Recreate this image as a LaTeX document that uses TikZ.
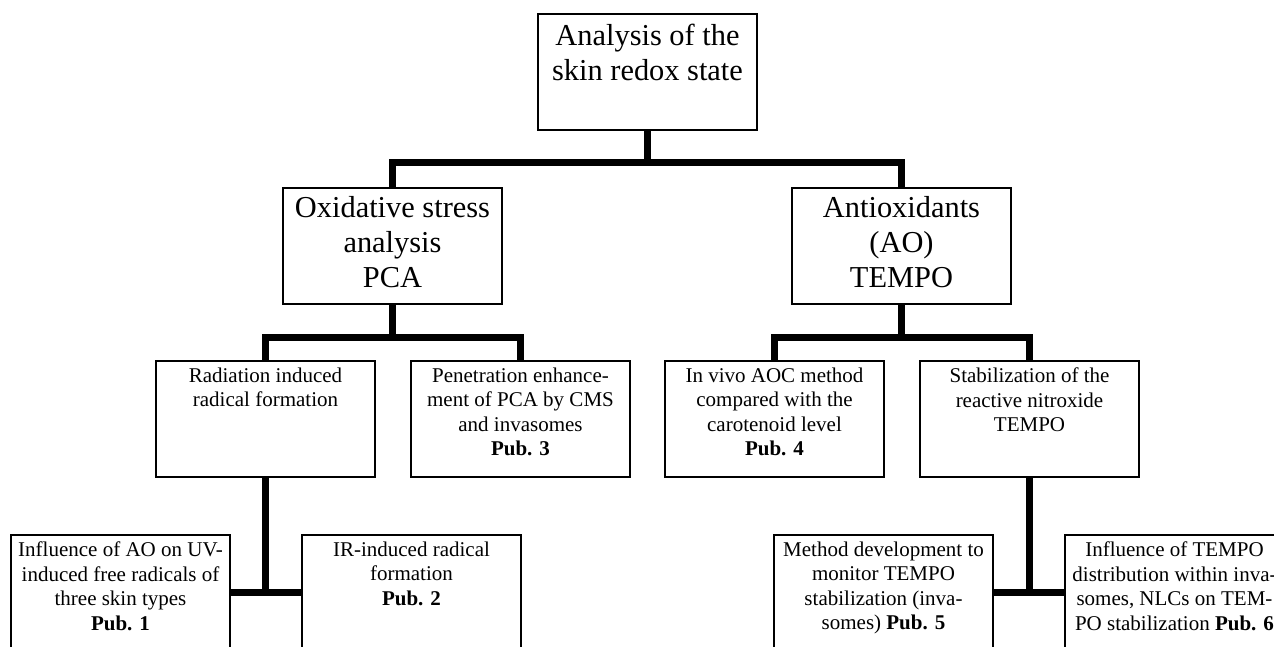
\documentclass[tikz,border=0pt]{standalone}
\usepackage{fontspec}
\setmainfont{Liberation Serif}
\usetikzlibrary{calc}
\begin{document}
\begin{tikzpicture}[x=1pt,y=-1pt,
  box/.style={draw, line width=1.8pt, minimum width=219pt, minimum height=116pt, inner sep=0pt, outer sep=0pt, anchor=north west},
  lowbox/.style={box, minimum height=114pt},
  bigtxt/.style={font=\fontsize{30.4}{35}\selectfont, align=center, anchor=north, inner sep=0pt},
  smalltxt/.style={font=\fontsize{21}{24.5}\selectfont, align=center, anchor=north, inner sep=0pt},
  link/.style={line width=7pt, line join=miter}]
\useasboundingbox (0,0) rectangle (1274,646);
\clip (0,0) rectangle (1274,646);
\fill[white] (0,0) rectangle (1274,646);
% boxes
\node[box] (top) at (538,14) {};
\node[box] (pca) at (283,188) {};
\node[box] (anti) at (792,188) {};
\node[box] (rad) at (156,361) {};
\node[box] (pen) at (411,361) {};
\node[box] (viv) at (665,361) {};
\node[box] (stab) at (920,361) {};
\node[lowbox] (inf1) at (11,535) {};
\node[lowbox] (ir) at (302,535) {};
\node[lowbox] (meth) at (774,535) {};
\node[lowbox] (inf6) at (1065,535) {};
% texts
\node[bigtxt] (ttop) at ($(top.north)+(0,10.2)$) {Analysis of the\\skin redox state};
\node[bigtxt] (tpca) at ($(pca.north)+(0,8.2)$) {Oxidative stress\\analysis\\PCA};
\node[bigtxt] (tanti) at ($(anti.north)+(0,8.2)$) {Antioxidants\\(AO)\\TEMPO};
\node[smalltxt] (trad) at ($(rad.north)+(0,6.7)$) {Radiation induced\\radical formation};
\node[smalltxt] (tpen) at ($(pen.north)+(0,6.7)$) {Penetration enhance-\\ment of PCA by CMS\\and invasomes\\\textbf{Pub. 3}};
\node[smalltxt] (tviv) at ($(viv.north)+(0,6.7)$) {In vivo AOC method\\compared with the\\carotenoid level\\\textbf{Pub. 4}};
\node[smalltxt] (tstab) at ($(stab.north)+(0,6.7)$) {Stabilization of the\\reactive nitroxide\\TEMPO};
\node[smalltxt] (tinf1) at ($(inf1.north)+(0,6.7)$) {Influence of AO on UV-\\induced free radicals of\\three skin types\\\textbf{Pub. 1}};
\node[smalltxt] (tir) at ($(ir.north)+(0,6.7)$) {IR-induced radical\\formation\\\textbf{Pub. 2}};
\node[smalltxt] (tmeth) at ($(meth.north)+(0,6.7)$) {Method development to\\monitor TEMPO\\stabilization (inva-\\somes) \textbf{Pub. 5}};
\node[smalltxt] (tinf6) at ($(inf6.north)+(0,6.7)$) {Influence of TEMPO\\distribution within inva-\\somes, NLCs on TEM-\\PO stabilization \textbf{Pub. 6}};
% connectors
\coordinate (h1) at (647.5,162);
\coordinate (h2) at (0,337);
\draw[link] (top.south) -- (top.south |- h1);
\draw[link] (pca.north) -- (pca.north |- h1) -- (anti.north |- h1) -- (anti.north);
\draw[link] (pca.south) -- (pca.south |- h2);
\draw[link] (rad.north) -- (rad.north |- h2) -- (pen.north |- h2) -- (pen.north);
\draw[link] (anti.south) -- (anti.south |- h2);
\draw[link] (viv.north) -- (viv.north |- h2) -- (stab.north |- h2) -- (stab.north);
\draw[link] (rad.south) -- (rad.south |- inf1.east);
\draw[link] (inf1.east) -- (ir.west);
\draw[link] (stab.south) -- (stab.south |- meth.east);
\draw[link] (meth.east) -- (inf6.west);
\end{tikzpicture}
\end{document}
